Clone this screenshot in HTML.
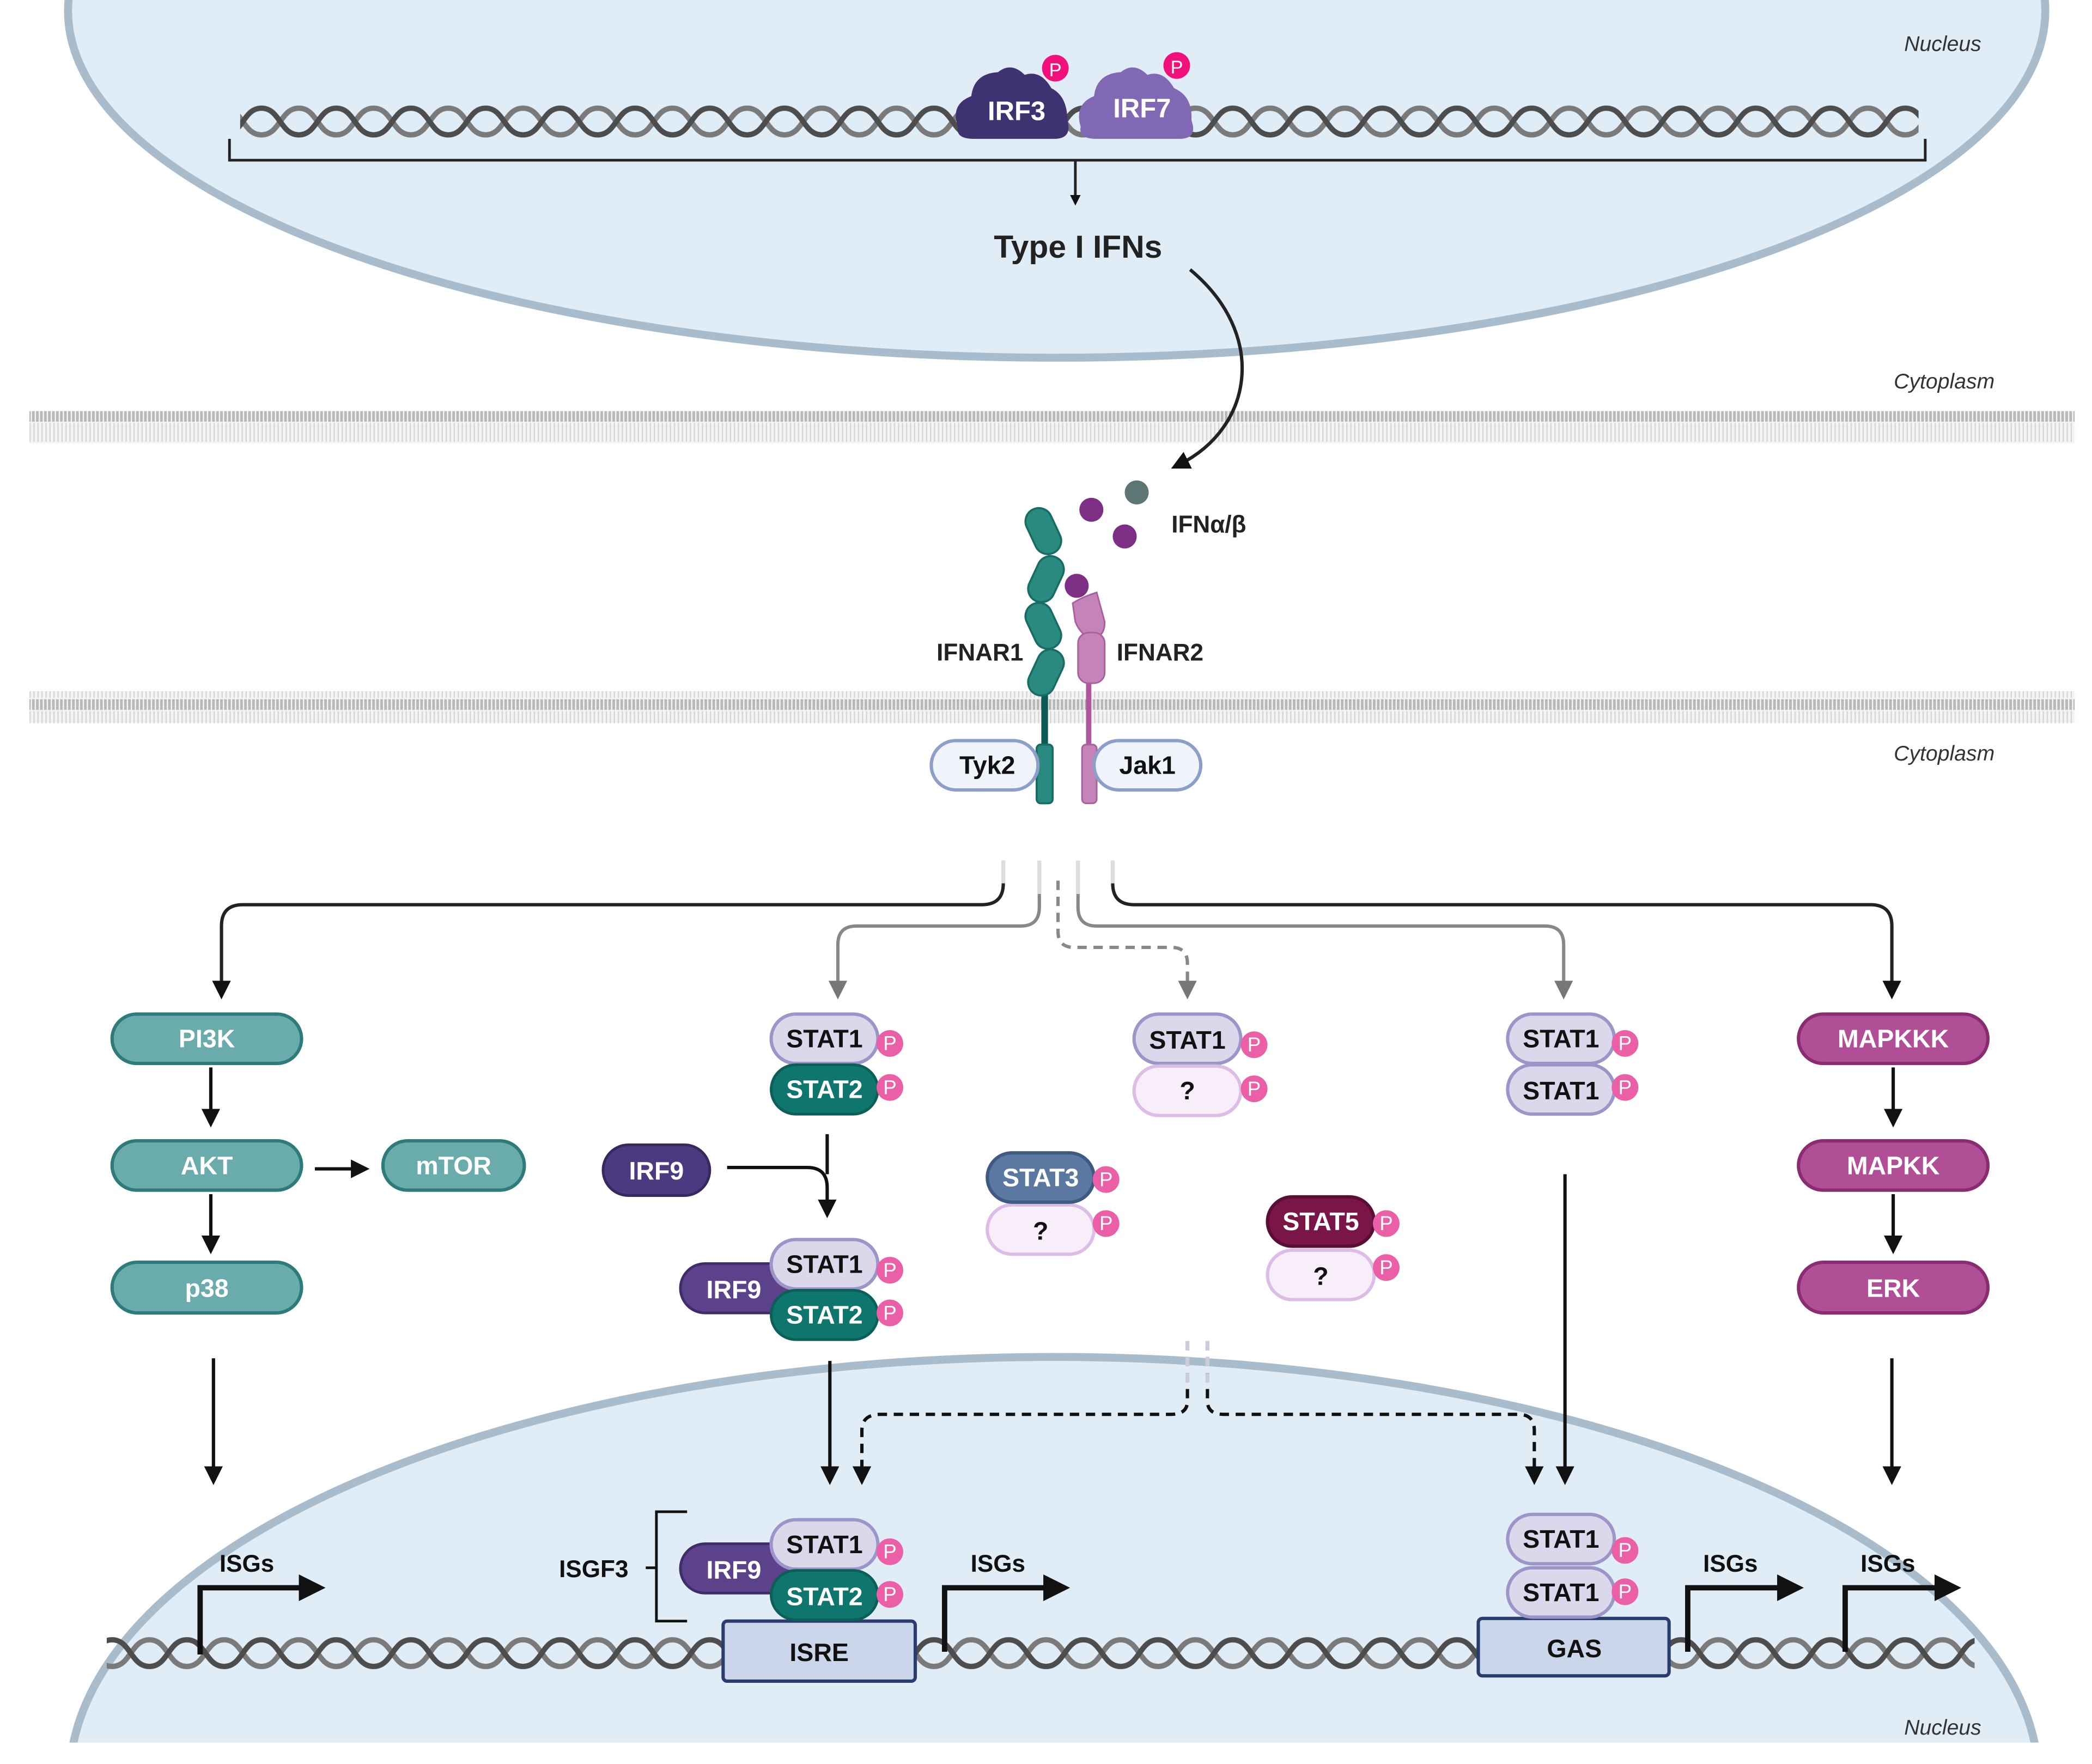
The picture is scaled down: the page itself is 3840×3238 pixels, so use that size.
<!DOCTYPE html>
<html><head><meta charset="utf-8"><style>
html,body{margin:0;padding:0;background:#fff;width:3840px;height:3238px;overflow:hidden}
svg{display:block}
text{font-family:"Liberation Sans",sans-serif}
</style></head><body>
<svg width="3840" height="3238" viewBox="0 0 1568 1322" xmlns="http://www.w3.org/2000/svg">
<defs>
<pattern id="dna" width="56" height="26" patternUnits="userSpaceOnUse" x="0" y="0">
<path d="M0,3 C14,3 14,23 28,23 C42,23 42,3 56,3" fill="none" stroke="#7a7a7a" stroke-width="4"/>
<path d="M0,23 C14,23 14,3 28,3 C42,3 42,23 56,23" fill="none" stroke="#4d4d4d" stroke-width="4"/>
</pattern>
<pattern id="mem" width="3" height="24" patternUnits="userSpaceOnUse">
<rect width="3" height="24" fill="#f4f4f4"/>
<rect x="0" y="0" width="2" height="4" fill="#b8b8b8"/>
<rect x="0" y="20" width="2" height="4" fill="#b8b8b8"/>
<rect x="1" y="5" width="1" height="14" fill="#d6d6d6"/>
</pattern>
<marker id="ah" markerWidth="8" markerHeight="8" refX="4" refY="4" orient="auto" markerUnits="userSpaceOnUse"><path d="M0,0 L8,4 L0,8z" fill="#111"/></marker>
<marker id="ahg" markerWidth="14" markerHeight="14" refX="7" refY="7" orient="auto" markerUnits="userSpaceOnUse"><path d="M0,0 L14,7 L0,14z" fill="#777"/></marker>
<marker id="ahb" markerWidth="14" markerHeight="14" refX="7" refY="7" orient="auto" markerUnits="userSpaceOnUse"><path d="M0,0 L14,7 L0,14z" fill="#111"/></marker>
<clipPath id="cb"><rect x="0" y="0" width="1568" height="1306"/></clipPath>
</defs>

<!-- top nucleus -->
<ellipse cx="792" cy="8" rx="741" ry="260" fill="#e1edf6" stroke="#a9bccb" stroke-width="6"/>
<rect x="180" y="78" width="1258" height="26" fill="url(#dna)"/>
<path d="M172,104 V120 H1443 V104" fill="none" stroke="#222" stroke-width="2"/>
<path d="M806,120 V150" stroke="#222" stroke-width="2" marker-end="url(#ah)"/>
<text x="808" y="193" font-size="24" font-weight="bold" text-anchor="middle" fill="#222">Type I IFNs</text>
<text x="1485" y="38" font-size="16" font-style="italic" text-anchor="end" fill="#333">Nucleus</text>
<!-- IRF3/7 -->
<path d="M718,95 Q712,78 728,72 Q730,55 748,54 Q758,46 768,56 Q780,52 788,66 Q800,72 800,90 Q804,104 790,104 L730,104 Q716,104 718,95z" fill="#3f3270"/>
<path d="M810,95 Q805,78 820,72 Q822,55 840,54 Q850,46 860,56 Q872,52 880,66 Q894,72 893,90 Q898,104 884,104 L822,104 Q808,104 810,95z" fill="#8068b4"/>
<text x="762" y="90" font-size="20" font-weight="bold" fill="#fff" text-anchor="middle">IRF3</text>
<text x="856" y="88" font-size="20" font-weight="bold" fill="#fff" text-anchor="middle">IRF7</text>
<circle cx="791" cy="51" r="10" fill="#f0117c"/><text x="791" y="57" font-size="14" fill="#fff" text-anchor="middle">P</text>
<circle cx="882" cy="49" r="10" fill="#f0117c"/><text x="882" y="55" font-size="14" fill="#fff" text-anchor="middle">P</text>

<!-- membranes -->
<rect x="22" y="308" width="1533" height="24" fill="url(#mem)"/>
<rect x="22" y="518" width="1533" height="24" fill="url(#mem)"/>
<text x="1495" y="291" font-size="16" font-style="italic" text-anchor="end" fill="#333">Cytoplasm</text>
<text x="1495" y="570" font-size="16" font-style="italic" text-anchor="end" fill="#333">Cytoplasm</text>
<path d="M892,202 C950,250 940,320 884,348" fill="none" stroke="#222" stroke-width="2.5" marker-end="url(#ahb)"/>

<!-- receptors -->
<line x1="783" y1="505" x2="783" y2="565" stroke="#0c5a53" stroke-width="5"/>
<line x1="816" y1="505" x2="816" y2="565" stroke="#b0559f" stroke-width="4"/>
<g fill="#2a8a80" stroke="#176d65" stroke-width="1.5">
<rect x="772" y="380" width="20" height="36" rx="10" transform="rotate(-25 782 398)"/>
<rect x="774" y="416" width="20" height="36" rx="10" transform="rotate(25 784 434)"/>
<rect x="772" y="451" width="20" height="36" rx="10" transform="rotate(-25 782 469)"/>
<rect x="774" y="486" width="20" height="36" rx="10" transform="rotate(25 784 504)"/>
<rect x="777" y="558" width="12" height="44" rx="3"/>
</g>
<g fill="#c483b9" stroke="#a9609c" stroke-width="1.2">
<path d="M804,452 Q812,447 822,444 L828,466 Q828,478 818,478 Q810,476 806,466z"/>
<rect x="808" y="474" width="20" height="38" rx="8"/>
<rect x="811" y="558" width="11" height="44" rx="3"/>
</g>
<circle cx="818" cy="382" r="9" fill="#7d2f86"/>
<circle cx="843" cy="402" r="9" fill="#7d2f86"/>
<circle cx="807" cy="439" r="9" fill="#7d2f86"/>
<circle cx="852" cy="369" r="9" fill="#5d7574"/>
<text x="878" y="399" font-size="18" font-weight="bold" fill="#222">IFNα/β</text>
<text x="702" y="495" font-size="18" font-weight="bold" fill="#222">IFNAR1</text>
<text x="837" y="495" font-size="18" font-weight="bold" fill="#222">IFNAR2</text>
<rect x="698" y="555" width="80" height="37" rx="18.5" fill="#eff3fa" stroke="#8d9fc8" stroke-width="2.5"/>
<text x="740" y="580" font-size="19" font-weight="bold" text-anchor="middle" fill="#111">Tyk2</text>
<rect x="820" y="555" width="80" height="37" rx="18.5" fill="#eff3fa" stroke="#8d9fc8" stroke-width="2.5"/>
<text x="860" y="580" font-size="19" font-weight="bold" text-anchor="middle" fill="#111">Jak1</text>

<!-- connectors -->
<g fill="none" stroke-width="2.5">
<path d="M752,645 V662 Q752,678 736,678 H182 Q166,678 166,694 V742" stroke="#222" marker-end="url(#ahb)"/>
<path d="M779,645 V680 Q779,694 765,694 H642 Q628,694 628,708 V742" stroke="#888" marker-end="url(#ahg)"/>
<path d="M793,660 V698 Q793,710 805,710 H878 Q890,710 890,722 V742" stroke="#888" stroke-dasharray="7,5" marker-end="url(#ahg)"/>
<path d="M808,645 V680 Q808,694 822,694 H1158 Q1172,694 1172,708 V742" stroke="#888" marker-end="url(#ahg)"/>
<path d="M834,645 V662 Q834,678 850,678 H1402 Q1418,678 1418,694 V742" stroke="#222" marker-end="url(#ahb)"/>
</g>
<path d="M752,645 V662 M834,645 V662 M779,645 V670 M808,645 V670" stroke="#ddd" stroke-width="3"/>

<!-- left column -->
<g font-size="19" font-weight="bold" fill="#fff" text-anchor="middle">
<rect x="84" y="760" width="142" height="37" rx="18.5" fill="#6aabab" stroke="#2d7b7b" stroke-width="2.5"/><text x="155" y="785">PI3K</text>
<rect x="84" y="855" width="142" height="37" rx="18.5" fill="#6aabab" stroke="#2d7b7b" stroke-width="2.5"/><text x="155" y="880">AKT</text>
<rect x="84" y="946" width="142" height="38" rx="19" fill="#6aabab" stroke="#2d7b7b" stroke-width="2.5"/><text x="155" y="972">p38</text>
<rect x="287" y="855" width="106" height="37" rx="18.5" fill="#6aabab" stroke="#2d7b7b" stroke-width="2.5"/><text x="340" y="880">mTOR</text>
<rect x="1348" y="760" width="142" height="37" rx="18.5" fill="#b14f96" stroke="#8a2c72" stroke-width="2.5"/><text x="1419" y="785">MAPKKK</text>
<rect x="1348" y="855" width="142" height="37" rx="18.5" fill="#b14f96" stroke="#8a2c72" stroke-width="2.5"/><text x="1419" y="880">MAPKK</text>
<rect x="1348" y="946" width="142" height="38" rx="19" fill="#b14f96" stroke="#8a2c72" stroke-width="2.5"/><text x="1419" y="972">ERK</text>
</g>
<g stroke="#111" stroke-width="2.5" fill="none">
<path d="M158,800 V838" marker-end="url(#ahb)"/>
<path d="M158,895 V933" marker-end="url(#ahb)"/>
<path d="M236,876 H270" marker-end="url(#ahb)"/>
<path d="M1419,800 V838" marker-end="url(#ahb)"/>
<path d="M1419,895 V933" marker-end="url(#ahb)"/>
<path d="M545,875 H605 Q620,875 620,890 V906" marker-end="url(#ahb)"/>
<path d="M620,850 V880"/>
<path d="M160,1018 V1106" marker-end="url(#ahb)"/>
<path d="M1418,1018 V1106" marker-end="url(#ahb)"/>
</g>

<!-- bottom nucleus -->
<g clip-path="url(#cb)">
<ellipse cx="790" cy="1335" rx="738" ry="318" fill="#e1edf6" stroke="#a9bccb" stroke-width="6"/>
</g>
<rect x="80" y="1222" width="1400" height="26" fill="url(#dna)" clip-path="url(#cb)" transform="translate(0,4)"/>
<text x="1485" y="1300" font-size="16" font-style="italic" text-anchor="end" fill="#333">Nucleus</text>

<g stroke="#111" stroke-width="2.5" fill="none">
<path d="M622,1020 V1106" marker-end="url(#ahb)"/>
<path d="M1173,880 V1106" marker-end="url(#ahb)"/>
<path d="M890,1005 V1050 Q890,1060 878,1060 H660 Q646,1060 646,1072 V1106" stroke-dasharray="7,5" marker-end="url(#ahb)"/>
<path d="M905,1005 V1050 Q905,1060 917,1060 H1138 Q1150,1060 1150,1072 V1106" stroke-dasharray="7,5" marker-end="url(#ahb)"/>
</g>
<path d="M890,1005 V1040 M905,1005 V1040" stroke="#ccd" stroke-width="3" stroke-dasharray="7,5"/>

<!-- ISG arrows -->
<g stroke="#111" stroke-width="4" fill="none">
<path d="M150,1240 V1190 H228"/><path d="M708,1238 V1190 H786"/><path d="M1265,1238 V1190 H1336"/><path d="M1383,1238 V1190 H1454"/>
</g>
<g fill="#111"><path d="M224,1180 L244,1190 L224,1200z"/><path d="M782,1180 L802,1190 L782,1200z"/><path d="M1332,1180 L1352,1190 L1332,1200z"/><path d="M1450,1180 L1470,1190 L1450,1200z"/></g>
<g font-size="18" font-weight="bold" fill="#111" text-anchor="middle">
<text x="185" y="1178">ISGs</text><text x="748" y="1178">ISGs</text><text x="1297" y="1178">ISGs</text><text x="1415" y="1178">ISGs</text>
<text x="445" y="1182">ISGF3</text>
</g>
<path d="M515,1133 H492 V1215 H515 M484,1175 H492" stroke="#111" stroke-width="2" fill="none"/>
<rect x="542" y="1215" width="144" height="45" rx="3" fill="#cbd6ea" stroke="#2b3d6e" stroke-width="2.5"/>
<text x="614" y="1245" font-size="19" font-weight="bold" text-anchor="middle" fill="#111">ISRE</text>
<rect x="1108" y="1213" width="143" height="43" rx="3" fill="#cbd6ea" stroke="#2b3d6e" stroke-width="2.5"/>
<text x="1180" y="1242" font-size="19" font-weight="bold" text-anchor="middle" fill="#111">GAS</text>

<!-- STAT complexes -->
<g font-size="19" font-weight="bold" text-anchor="middle">
<rect x="578" y="760" width="80" height="37" rx="18.5" fill="#dcd8ec" stroke="#9c95c8" stroke-width="2.5"/><text x="618" y="785" fill="#111">STAT1</text>
<rect x="578" y="798" width="80" height="37" rx="18.5" fill="#0e766c" stroke="#0b5f57" stroke-width="2"/><text x="618" y="823" fill="#fff">STAT2</text>
<rect x="850" y="760" width="80" height="37" rx="18.5" fill="#dcd8ec" stroke="#9c95c8" stroke-width="2.5"/><text x="890" y="786" fill="#111">STAT1</text>
<rect x="850" y="799" width="80" height="37" rx="18.5" fill="#f8eefa" stroke="#dbbde6" stroke-width="2.5"/><text x="890" y="824" fill="#111">?</text>
<rect x="1130" y="760" width="80" height="37" rx="18.5" fill="#dcd8ec" stroke="#9c95c8" stroke-width="2.5"/><text x="1170" y="785" fill="#111">STAT1</text>
<rect x="1130" y="798" width="80" height="37" rx="18.5" fill="#dcd8ec" stroke="#9c95c8" stroke-width="2.5"/><text x="1170" y="824" fill="#111">STAT1</text>
<rect x="740" y="903" width="80" height="37" rx="18.5" fill="#f8eefa" stroke="#dbbde6" stroke-width="2.5"/><text x="780" y="929" fill="#111">?</text>
<rect x="740" y="864" width="80" height="37" rx="18.5" fill="#5a78a0" stroke="#3e5a82" stroke-width="2.5"/><text x="780" y="889" fill="#fff">STAT3</text>
<rect x="950" y="937" width="80" height="37" rx="18.5" fill="#f8eefa" stroke="#dbbde6" stroke-width="2.5"/><text x="990" y="963" fill="#111">?</text>
<rect x="950" y="897" width="80" height="37" rx="18.5" fill="#7a1548" stroke="#5a0e34" stroke-width="2.5"/><text x="990" y="922" fill="#fff">STAT5</text>
<rect x="452" y="858" width="80" height="38" rx="19" fill="#4b3a80" stroke="#36295f" stroke-width="2"/><text x="492" y="884" fill="#fff">IRF9</text>
<rect x="510" y="947" width="90" height="37" rx="18.5" fill="#5b428a" stroke="#3f2c68" stroke-width="2"/><text x="550" y="973" fill="#fff">IRF9</text>
<rect x="578" y="929" width="80" height="37" rx="18.5" fill="#dcd8ec" stroke="#9c95c8" stroke-width="2.5"/><text x="618" y="954" fill="#111">STAT1</text>
<rect x="578" y="967" width="80" height="37" rx="18.5" fill="#0e766c" stroke="#0b5f57" stroke-width="2"/><text x="618" y="992" fill="#fff">STAT2</text>
<rect x="510" y="1157" width="90" height="37" rx="18.5" fill="#5b428a" stroke="#3f2c68" stroke-width="2"/><text x="550" y="1183" fill="#fff">IRF9</text>
<rect x="578" y="1139" width="80" height="37" rx="18.5" fill="#dcd8ec" stroke="#9c95c8" stroke-width="2.5"/><text x="618" y="1164" fill="#111">STAT1</text>
<rect x="578" y="1177" width="80" height="37" rx="18.5" fill="#0e766c" stroke="#0b5f57" stroke-width="2"/><text x="618" y="1203" fill="#fff">STAT2</text>
<rect x="1130" y="1135" width="80" height="37" rx="18.5" fill="#dcd8ec" stroke="#9c95c8" stroke-width="2.5"/><text x="1170" y="1160" fill="#111">STAT1</text>
<rect x="1130" y="1175" width="80" height="37" rx="18.5" fill="#dcd8ec" stroke="#9c95c8" stroke-width="2.5"/><text x="1170" y="1200" fill="#111">STAT1</text>
</g>
<g fill="#ea5fa6">
<circle cx="667" cy="782" r="10"/><circle cx="667" cy="815" r="10"/>
<circle cx="940" cy="783" r="10"/><circle cx="940" cy="816" r="10"/>
<circle cx="1218" cy="782" r="10"/><circle cx="1218" cy="815" r="10"/>
<circle cx="829" cy="884" r="10"/><circle cx="829" cy="917" r="10"/>
<circle cx="1039" cy="917" r="10"/><circle cx="1039" cy="950" r="10"/>
<circle cx="667" cy="952" r="10"/><circle cx="667" cy="984" r="10"/>
<circle cx="667" cy="1163" r="10"/><circle cx="667" cy="1195" r="10"/>
<circle cx="1218" cy="1162" r="10"/><circle cx="1218" cy="1193" r="10"/>
</g>
<g fill="#fff" font-size="15" text-anchor="middle">
<text x="667" y="787">P</text><text x="667" y="820">P</text>
<text x="940" y="788">P</text><text x="940" y="821">P</text>
<text x="1218" y="787">P</text><text x="1218" y="820">P</text>
<text x="829" y="889">P</text><text x="829" y="922">P</text>
<text x="1039" y="922">P</text><text x="1039" y="955">P</text>
<text x="667" y="957">P</text><text x="667" y="989">P</text>
<text x="667" y="1168">P</text><text x="667" y="1200">P</text>
<text x="1218" y="1167">P</text><text x="1218" y="1198">P</text>
</g>
</svg>
</body></html>
